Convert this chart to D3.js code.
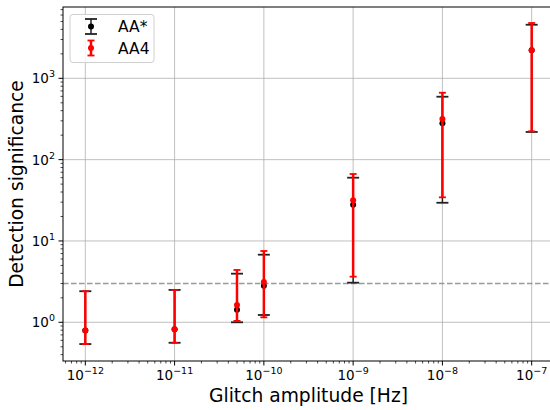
<!DOCTYPE html>
<html>
<head>
<meta charset="utf-8">
<script src="https://cdn.jsdelivr.net/npm/d3@7"></script>
<style>
  body { margin: 0; background: #fff; }
  svg { font-family: "DejaVu Sans", sans-serif; }
</style>
</head>
<body>
<div id="chart"></div>
<script>
'use strict';

// data
var amplitudes = [1e-12, 1e-11, 5e-11, 1e-10, 1e-9, 1e-8, 1e-7];
var aaStar   = [0.79, 0.82, 1.43, 2.82, 27.9, 280, 2210];
var aaStarLo = [0.54, 0.56, 1.0, 1.23, 3.07, 29.5, 219];
var aaStarHi = [2.41, 2.5, 3.96, 6.78, 60, 594, 4560];
var aa4      = [0.79, 0.82, 1.63, 3.13, 31.6, 316, 2210];
var aa4Lo    = [0.54, 0.56, 1.04, 1.15, 3.64, 34.4, 223];
var aa4Hi    = [2.41, 2.5, 4.4, 7.53, 66.6, 665, 4790];
var threshold = 3;
var xTickExp = [-12, -11, -10, -9, -8, -7];
var yTickExp = [0, 1, 2, 3];

var WIDTH = 550,
	HEIGHT = 410;
var margin = { left: 63, top: 7, right: 554, bottom: 361 };

var svg = d3.select('#chart').append('svg')
	.attr('width', WIDTH)
	.attr('height', HEIGHT);

var x = d3.scaleLog()
	.domain([Math.pow(10, -12.25), Math.pow(10, -6.75)])
	.range([margin.left, margin.right]);
var y = d3.scaleLog()
	.domain([Math.pow(10, -0.476), Math.pow(10, 3.877)])
	.range([margin.bottom, margin.top]);

// minor tick values
function minors(lo, hi) {
	var out = [];
	for (var e = lo; e <= hi; e++) {
		for (var m = 2; m <= 9; m++) out.push(m * Math.pow(10, e));
	}
	return out;
}
var xMinor = minors(-13, -7).filter(function(v) { return v > x.domain()[0] && v < x.domain()[1]; });
var yMinor = minors(-1, 3).filter(function(v) { return v > y.domain()[0] && v < y.domain()[1]; });

// grid
var grid = svg.append('g').attr('stroke', '#b0b0b0').attr('stroke-width', 0.8);
grid.selectAll('.gx').data(xTickExp).enter().append('line')
	.attr('x1', function(d) { return x(Math.pow(10, d)); })
	.attr('x2', function(d) { return x(Math.pow(10, d)); })
	.attr('y1', margin.top).attr('y2', margin.bottom);
grid.selectAll('.gy').data(yTickExp).enter().append('line')
	.attr('y1', function(d) { return y(Math.pow(10, d)); })
	.attr('y2', function(d) { return y(Math.pow(10, d)); })
	.attr('x1', margin.left).attr('x2', margin.right);

// threshold line
svg.append('line')
	.attr('x1', margin.left).attr('x2', margin.right)
	.attr('y1', y(threshold)).attr('y2', y(threshold))
	.attr('stroke', '#999').attr('stroke-width', 1.5)
	.attr('stroke-dasharray', '5.5,2.5');

// error bars
function drawSeries(vals, lo, hi, color, dot, lineW, capHalf, r) {
	var g = svg.append('g');
	var rows = amplitudes.map(function(a, i) { return { a: a, v: vals[i], lo: lo[i], hi: hi[i] }; });
	g.selectAll('.bar').data(rows).enter().append('line')
		.attr('x1', function(d) { return x(d.a); })
		.attr('x2', function(d) { return x(d.a); })
		.attr('y1', function(d) { return y(d.lo); })
		.attr('y2', function(d) { return y(d.hi); })
		.attr('stroke', color).attr('stroke-width', lineW);
	['lo', 'hi'].forEach(function(k) {
		g.selectAll('.cap' + k).data(rows).enter().append('line')
			.attr('x1', function(d) { return x(d.a) - capHalf; })
			.attr('x2', function(d) { return x(d.a) + capHalf; })
			.attr('y1', function(d) { return y(d[k]); })
			.attr('y2', function(d) { return y(d[k]); })
			.attr('stroke', color).attr('stroke-width', 1.8);
	});
	g.selectAll('.pt').data(rows).enter().append('circle')
		.attr('cx', function(d) { return x(d.a); })
		.attr('cy', function(d) { return y(d.v); })
		.attr('r', r)
		.attr('fill', dot);
}
drawSeries(aaStar, aaStarLo, aaStarHi, '#222', '#000', 1.5, 6, 3);
drawSeries(aa4, aa4Lo, aa4Hi, '#f00', '#f00', 2.5, 3.5, 3);

// spines
var spine = svg.append('g').attr('stroke', '#000').attr('stroke-width', 1).attr('fill', 'none');
spine.append('rect')
	.attr('x', margin.left).attr('y', margin.top)
	.attr('width', margin.right - margin.left)
	.attr('height', margin.bottom - margin.top);

// ticks
var ticks = svg.append('g').attr('stroke', '#000');
ticks.selectAll('.xt').data(xTickExp).enter().append('line')
	.attr('x1', function(d) { return x(Math.pow(10, d)); })
	.attr('x2', function(d) { return x(Math.pow(10, d)); })
	.attr('y1', margin.bottom).attr('y2', margin.bottom + 4.5).attr('stroke-width', 1);
ticks.selectAll('.xm').data(xMinor).enter().append('line')
	.attr('x1', function(d) { return x(d); })
	.attr('x2', function(d) { return x(d); })
	.attr('y1', margin.bottom).attr('y2', margin.bottom + 2.5).attr('stroke-width', 0.7);
ticks.selectAll('.yt').data(yTickExp).enter().append('line')
	.attr('y1', function(d) { return y(Math.pow(10, d)); })
	.attr('y2', function(d) { return y(Math.pow(10, d)); })
	.attr('x1', margin.left).attr('x2', margin.left - 4.5).attr('stroke-width', 1);
ticks.selectAll('.ym').data(yMinor).enter().append('line')
	.attr('y1', function(d) { return y(d); })
	.attr('y2', function(d) { return y(d); })
	.attr('x1', margin.left).attr('x2', margin.left - 2.5).attr('stroke-width', 0.7);

// tick labels
function powLabel(sel, e) {
	sel.append('tspan').text('10');
	sel.append('tspan').attr('dy', -6).attr('font-size', 9.5).text(e < 0 ? '\u2212' + (-e) : String(e));
}
svg.selectAll('.xl').data(xTickExp).enter().append('text')
	.attr('x', function(d) { return x(Math.pow(10, d)); })
	.attr('y', margin.bottom + 19)
	.attr('text-anchor', 'middle')
	.attr('font-size', 13.5)
	.attr('fill', '#000')
	.each(function(d) { powLabel(d3.select(this), d); });
svg.selectAll('.yl').data(yTickExp).enter().append('text')
	.attr('x', margin.left - 8)
	.attr('y', function(d) { return y(Math.pow(10, d)) + 5; })
	.attr('text-anchor', 'end')
	.attr('font-size', 13.5)
	.attr('fill', '#000')
	.each(function(d) { powLabel(d3.select(this), d); });

// axis labels
svg.append('text')
	.attr('x', (margin.left + margin.right) / 2)
	.attr('y', 402)
	.attr('text-anchor', 'middle')
	.attr('font-size', 18.7)
	.text('Glitch amplitude [Hz]');
svg.append('text')
	.attr('transform', 'translate(23,' + ((margin.top + margin.bottom) / 2) + ') rotate(-90)')
	.attr('text-anchor', 'middle')
	.attr('font-size', 18.7)
	.text('Detection significance');

// legend
var legend = svg.append('g');
legend.append('rect')
	.attr('x', 70).attr('y', 14.5).attr('width', 84).attr('height', 48)
	.attr('rx', 3)
	.attr('fill', '#fff').attr('fill-opacity', 0.8)
	.attr('stroke', '#d0d0d0').attr('stroke-width', 1);
var legendItems = [
	{ label: 'AA*', color: '#222', dot: '#000', w: 1.5, cap: 6, r: 3, cy: 26.5 },
	{ label: 'AA4', color: '#f00', dot: '#f00', w: 2.5, cap: 3.5, r: 3, cy: 48 }
];
legendItems.forEach(function(it) {
	var g = legend.append('g');
	g.append('line').attr('x1', 91).attr('x2', 91)
		.attr('y1', it.cy - 7.5).attr('y2', it.cy + 7.5)
		.attr('stroke', it.color).attr('stroke-width', it.w);
	[-7.5, 7.5].forEach(function(o) {
		g.append('line').attr('x1', 91 - it.cap).attr('x2', 91 + it.cap)
			.attr('y1', it.cy + o).attr('y2', it.cy + o)
			.attr('stroke', it.color).attr('stroke-width', 1.8);
	});
	g.append('circle').attr('cx', 91).attr('cy', it.cy).attr('r', it.r).attr('fill', it.dot);
	g.append('text').attr('x', 118).attr('y', it.cy + 5.5)
		.attr('font-size', 15.5).text(it.label);
});
</script>
</body>
</html>
